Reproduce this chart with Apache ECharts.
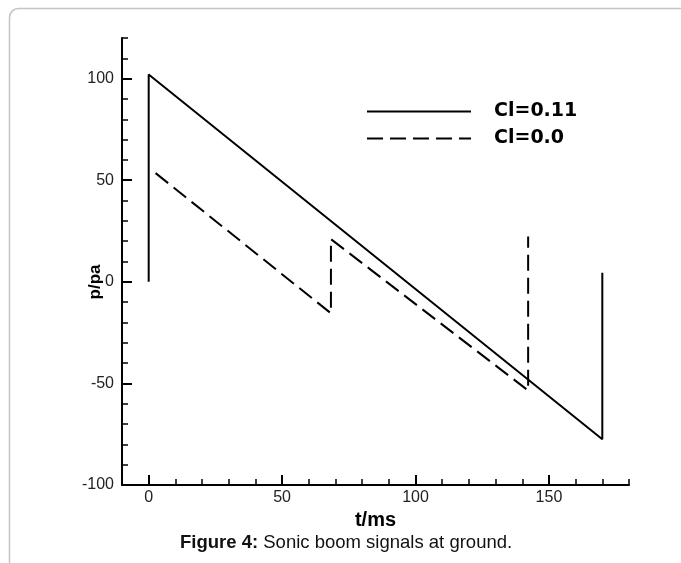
<!DOCTYPE html>
<html>
<head>
<meta charset="utf-8">
<script src="https://cdn.jsdelivr.net/npm/echarts@6/dist/echarts.min.js"></script>
<style>
html,body{margin:0;padding:0;background:#fff;}
#chart{width:681px;height:563px;}
</style>
</head>
<body>
<div id="chart"></div>
<script>
// ---- data ----
var seriesNames = ['Cl=0.11', 'Cl=0.0'];
var solidSignal = [[0, 0], [0, 102], [170, -77.5], [170, 4.5]];
var dashedSignal = [[2.6, 53.5], [68.3, -15.5], [68.3, 21], [142.2, -53.5], [142.2, 22.3]];
var xMajorTicks = [0, 50, 100, 150];
var xMinorTicks = [10, 20, 30, 40, 60, 70, 80, 90, 110, 120, 130, 140, 160, 170, 180];
var yMajorTicks = [-100, -50, 0, 50, 100];
var yMinorTicks = [-90, -80, -70, -60, -40, -30, -20, -10, 10, 20, 30, 40, 60, 70, 80, 90, 110, 120];
var xName = 't/ms';
var yName = 'p/pa';
var captionBold = 'Figure 4:';
var captionText = ' Sonic boom signals at ground.';

var FONT = 'Liberation Sans, Arial, sans-serif';
var chart = echarts.init(document.getElementById('chart'), null, {renderer: 'canvas'});

function baseAxis(extra) {
  return Object.assign({
    type: 'value',
    splitLine: {show: false},
    axisLine: {show: true, onZero: false, lineStyle: {color: '#000', width: 2}},
  }, extra);
}

var option = {
  backgroundColor: '#fff',
  animation: false,
  grid: {left: 122, right: 52, top: 38, bottom: 78, containLabel: false},
  xAxis: [
    baseAxis({
      min: -10, max: 180, position: 'bottom',
      axisTick: {show: true, inside: true, length: 10, customValues: xMajorTicks, lineStyle: {color: '#000', width: 2}},
      axisLabel: {show: true, customValues: xMajorTicks, margin: 5, fontSize: 16, color: '#222', fontFamily: FONT},
      name: xName, nameLocation: 'middle', nameGap: 14,
      nameTextStyle: {fontSize: 20, fontWeight: 'bold', color: '#000', fontFamily: FONT}
    }),
    baseAxis({
      min: -10, max: 180, position: 'bottom', gridIndex: 0,
      axisLine: {show: false, onZero: false},
      axisTick: {show: true, inside: true, length: 6, customValues: xMinorTicks, lineStyle: {color: '#000', width: 1.5}},
      axisLabel: {show: false}
    })
  ],
  yAxis: [
    baseAxis({
      min: -100, max: 120, position: 'left',
      axisTick: {show: true, inside: true, length: 10, customValues: yMajorTicks, lineStyle: {color: '#000', width: 2}},
      axisLabel: {show: true, customValues: yMajorTicks, margin: 8, fontSize: 16, color: '#222', fontFamily: FONT}
    }),
    baseAxis({
      min: -100, max: 120, position: 'left', gridIndex: 0,
      axisLine: {show: false, onZero: false},
      axisTick: {show: true, inside: true, length: 6, customValues: yMinorTicks, lineStyle: {color: '#000', width: 1.5}},
      axisLabel: {show: false}
    })
  ],
  legend: {
    orient: 'vertical', left: 361, top: 97,
    itemWidth: 104, itemHeight: 14, itemGap: 8,
    itemStyle: {opacity: 0},
    textStyle: {fontSize: 19, fontWeight: 'bold', color: '#000', fontFamily: 'DejaVu Sans, sans-serif', padding: [0, 0, 0, 18]},
    data: seriesNames
  },
  title: {
    text: '{b|' + captionBold + '}{n|' + captionText + '}',
    left: 175, top: 528,
    textStyle: {
      rich: {
        b: {fontSize: 18.5, fontWeight: 'bold', color: '#111', fontFamily: FONT},
        n: {fontSize: 18.5, fontWeight: 'normal', color: '#111', fontFamily: FONT}
      }
    }
  },
  graphic: [
    {type: 'rect', shape: {x: 9.5, y: 8.5, width: 720, height: 620, r: 9}, style: {fill: 'none', stroke: '#c4c4c4', lineWidth: 1.5}, silent: true, z: -1},
    {type: 'text', x: 95, y: 282, rotation: Math.PI / 2, style: {text: yName, fontSize: 17, fontWeight: 'bold', fill: '#000', fontFamily: FONT, align: 'center', verticalAlign: 'middle'}}
  ],
  series: [
    {
      name: seriesNames[0], type: 'line', xAxisIndex: 0, yAxisIndex: 0,
      data: solidSignal, symbol: 'none', showSymbol: false,
      lineStyle: {color: '#000', width: 2, type: 'solid'}, itemStyle: {color: '#000'}
    },
    {
      name: seriesNames[1], type: 'line', xAxisIndex: 0, yAxisIndex: 0,
      data: dashedSignal, symbol: 'none', showSymbol: false,
      lineStyle: {color: '#000', width: 2, type: [16, 7]}, itemStyle: {color: '#000'}
    }
  ]
};
chart.setOption(option);
</script>
</body>
</html>
